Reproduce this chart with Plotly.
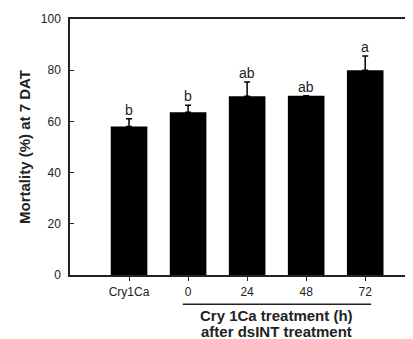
import plotly.graph_objects as go

categories = ["Cry1Ca", "0", "24", "48", "72"]
mortality = [58.0, 63.6, 69.8, 70.0, 80.0]
errors = [3.0, 2.7, 5.6, 0.0, 5.5]
letters = ["b", "b", "ab", "ab", "a"]
y_ticks = [0, 20, 40, 60, 80, 100]

fig = go.Figure()
fig.add_trace(go.Bar(
    x=categories, y=mortality, width=0.62,
    marker=dict(color="black", line=dict(width=0)),
    error_y=dict(type="data", array=errors, arrayminus=[0] * len(errors), symmetric=False,
                 color="black", thickness=1.5, width=3, visible=True),
    showlegend=False,
))

FAM = "Liberation Sans, Arial, sans-serif"
font_tick = dict(family=FAM, size=12, color="#222")

for i, (v, e, l) in enumerate(zip(mortality, errors, letters)):
    fig.add_annotation(xref="x", yref="y", x=i, y=v + e, text=l, showarrow=False, yanchor="bottom",
                       yshift=-1, font=dict(family=FAM, size=14, color="#222"))

# group line under the treatment categories
fig.add_shape(type="line", xref="x", yref="paper", x0=0.91, x1=4.1, y0=-0.1146, y1=-0.1146,
              line=dict(color="#222", width=1.5))
fig.add_annotation(xref="x", yref="paper", x=2.5, y=-0.158, text="<b>Cry 1Ca treatment (h)</b>",
                   showarrow=False, yanchor="middle",
                   font=dict(family=FAM, size=15, color="#222"))
fig.add_annotation(xref="x", yref="paper", x=2.5, y=-0.222, text="<b>after dsINT treatment</b>",
                   showarrow=False, yanchor="middle",
                   font=dict(family=FAM, size=15, color="#222"))
fig.add_annotation(xref="paper", yref="paper", x=-0.131, y=0.5, text="<b>Mortality (%) at 7 DAT</b>",
                   textangle=-90, showarrow=False, xanchor="center", yanchor="middle",
                   font=dict(family=FAM, size=15, color="#222"))

fig.update_layout(
    width=413, height=339,
    margin=dict(l=62, r=0, t=11, b=72),
    paper_bgcolor="white", plot_bgcolor="white",
    xaxis=dict(type="category", range=[-1, 4.945], showline=True, linecolor="#222", linewidth=1.5,
               mirror=True, ticks="outside", ticklen=4, tickcolor="#222", tickwidth=1,
               showgrid=False, zeroline=False, tickfont=font_tick, ticklabelstandoff=1),
    yaxis=dict(range=[0, 100], tickvals=y_ticks, showline=True, linecolor="#222", linewidth=1.5,
               ticks="inside", ticklen=4, tickcolor="#222", tickwidth=1, showgrid=False,
               zeroline=False, tickfont=font_tick, ticklabelstandoff=5),
)

fig.write_html("out.html")
